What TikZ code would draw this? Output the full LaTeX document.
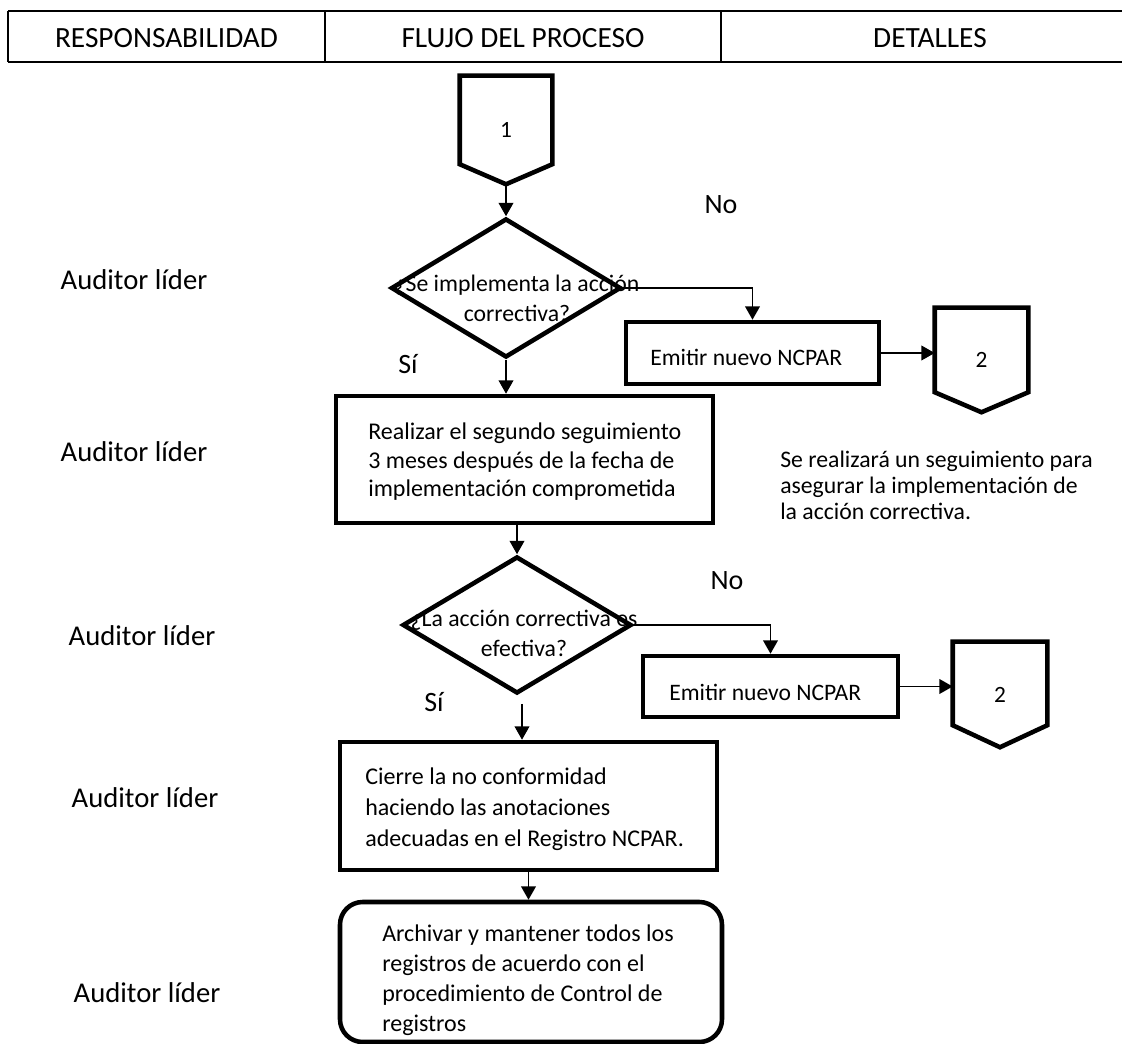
\documentclass[tikz,border=0pt]{standalone}
\usepackage{fontspec}
\setmainfont{Carlito}
\usetikzlibrary{shapes.geometric,arrows.meta}
\newcommand{\pxu}{0.75pt}
\begin{document}
\begin{tikzpicture}[x=0.75pt,y=-0.75pt,
  shapeline/.style={draw=black,line width=3.4pt},
  conn/.style={draw=black,line width=1.2pt},
  arr/.style={conn,-{Triangle[length=10pt,width=11pt]}},
  hdr/.style={font=\fontsize{22pt}{26pt}\selectfont},
  role/.style={font=\fontsize{21.5pt}{26pt}\selectfont},
  lbl/.style={font=\fontsize{21pt}{25pt}\selectfont},
  txt/.style={inner sep=0pt,anchor=base west,align=left},
  pbox/.style={shapeline,rectangle,inner sep=0pt},
  dshape/.style={shapeline,diamond,inner sep=0pt},
  pent/.style={rectangle,inner sep=0pt,font=\fontsize{17.5pt}{21pt}\selectfont}
]
\fill[white] (0,0) rectangle (1122,1044);
\useasboundingbox (0,0) rectangle (1122,1044);

% header
\draw[line width=1.1pt] (8,11) -- (1122,11);
\draw[line width=1.1pt] (8,62) -- (1122,62);
\draw[line width=1.1pt] (8,11) -- (8,62);
\draw[line width=1.1pt] (325,11) -- (325,62);
\draw[line width=1.1pt] (721,11) -- (721,62);
\node[hdr] (h1) at (166.5,38) {RESPONSABILIDAD};
\node[hdr] (h2) at (523,38) {FLUJO DEL PROCESO};
\node[hdr] (h3) at (930,38) {DETALLES};

% role labels
\node[role] (r1) at (134,280) {Auditor líder};
\node[role] (r2) at (134,452) {Auditor líder};
\node[role] (r3) at (142,636) {Auditor líder};
\node[role] (r4) at (145,798) {Auditor líder};
\node[role] (r5) at (147,993) {Auditor líder};

% connector 1
\node[pent,minimum width=92*\pxu,minimum height=108*\pxu] (p1) at (506,130) {1};
\draw[shapeline,line join=miter] (p1.north west) -- (p1.north east) -- ([yshift=15pt]p1.south east) -- (p1.south) -- ([yshift=15pt]p1.south west) -- cycle;

% decision 1
\node[dshape,minimum width=230*\pxu,minimum height=139*\pxu] (d1) at (506,288) {};
\node[inner sep=0pt,anchor=base,align=center,font=\fontsize{17.8pt}{22.5pt}\selectfont] (d1t) at (517,322) {¿Se implementa la acción\\correctiva?};

% emitir 1
\node[pbox,minimum width=253*\pxu,minimum height=62*\pxu] (e1) at (752.5,353) {};
\node[txt,font=\fontsize{17.7pt}{21pt}\selectfont] (e1t) at (650,366) {Emitir nuevo NCPAR};
\node[pent,minimum width=93*\pxu,minimum height=104*\pxu] (p2) at (981.5,360) {2};
\draw[shapeline,line join=miter] (p2.north west) -- (p2.north east) -- ([yshift=15pt]p2.south east) -- (p2.south) -- ([yshift=15pt]p2.south west) -- cycle;

% box 1
\node[pbox,minimum width=377*\pxu,minimum height=127*\pxu] (b1) at (524.5,459.5) {};
\node[txt,font=\fontsize{18pt}{21.4pt}\selectfont] (b1t) at (368,497) {Realizar el segundo seguimiento\\3 meses después de la fecha de\\implementación comprometida};

% details
\node[txt,font=\fontsize{17.8pt}{19.6pt}\selectfont] (det) at (780,520) {Se realizará un seguimiento para\\asegurar la implementación de\\la acción correctiva.};

% decision 2
\node[dshape,minimum width=229*\pxu,minimum height=137*\pxu] (d2) at (517,625) {};
\node[inner sep=0pt,anchor=base,align=center,font=\fontsize{17.8pt}{22.5pt}\selectfont] (d2t) at (524,657) {¿La acción correctiva es\\efectiva?};

% emitir 2
\node[pbox,minimum width=255*\pxu,minimum height=61*\pxu] (e2) at (770.5,686.5) {};
\node[txt,font=\fontsize{17.7pt}{21pt}\selectfont] (e2t) at (669,701) {Emitir nuevo NCPAR};
\node[pent,minimum width=94*\pxu,minimum height=105*\pxu] (p3) at (1000,694.5) {2};
\draw[shapeline,line join=miter] (p3.north west) -- (p3.north east) -- ([yshift=16.5pt]p3.south east) -- (p3.south) -- ([yshift=16.5pt]p3.south west) -- cycle;

% box 3
\node[pbox,minimum width=377*\pxu,minimum height=128*\pxu] (b3) at (528.5,806) {};
\node[txt,font=\fontsize{18pt}{23pt}\selectfont] (b3t) at (365,846) {Cierre la no conformidad\\haciendo las anotaciones\\adecuadas en el Registro NCPAR.};

% final rounded
\node[pbox,rounded corners=17pt,minimum width=382*\pxu,minimum height=140*\pxu] (fin) at (531,972) {};
\node[txt,font=\fontsize{18pt}{22.5pt}\selectfont] (fint) at (382,1031) {Archivar y mantener todos los\\registros de acuerdo con el\\procedimiento de Control de\\registros};

% labels
\node[lbl] (no1) at (721,205) {No};
\node[lbl] (no2) at (727,581) {No};
\node[lbl] (si1) at (408,364) {Sí};
\node[lbl] (si2) at (434,702) {Sí};

% connectors
\coordinate (d2s) at ([xshift=3.75pt,yshift=-6pt]d2.south);
\draw[arr] (p1.south) -- (d1.north);
\draw[arr] (d1.south) -- (d1.south |- b1.north);
\draw[arr] (d1.east) -| (e1.north);
\draw[arr] (e1.east) -- (e1.east -| p2.west);
\draw[arr] (d2.north |- b1.south) -- (d2.north);
\draw[arr] (d2s) -- (d2s |- b3.north);
\draw[arr] (d2.east) -| (e2.north);
\draw[arr] (e2.east) -- (e2.east -| p3.west);
\draw[arr] (b3.south) -- (b3.south |- fin.north);
\end{tikzpicture}
\end{document}
